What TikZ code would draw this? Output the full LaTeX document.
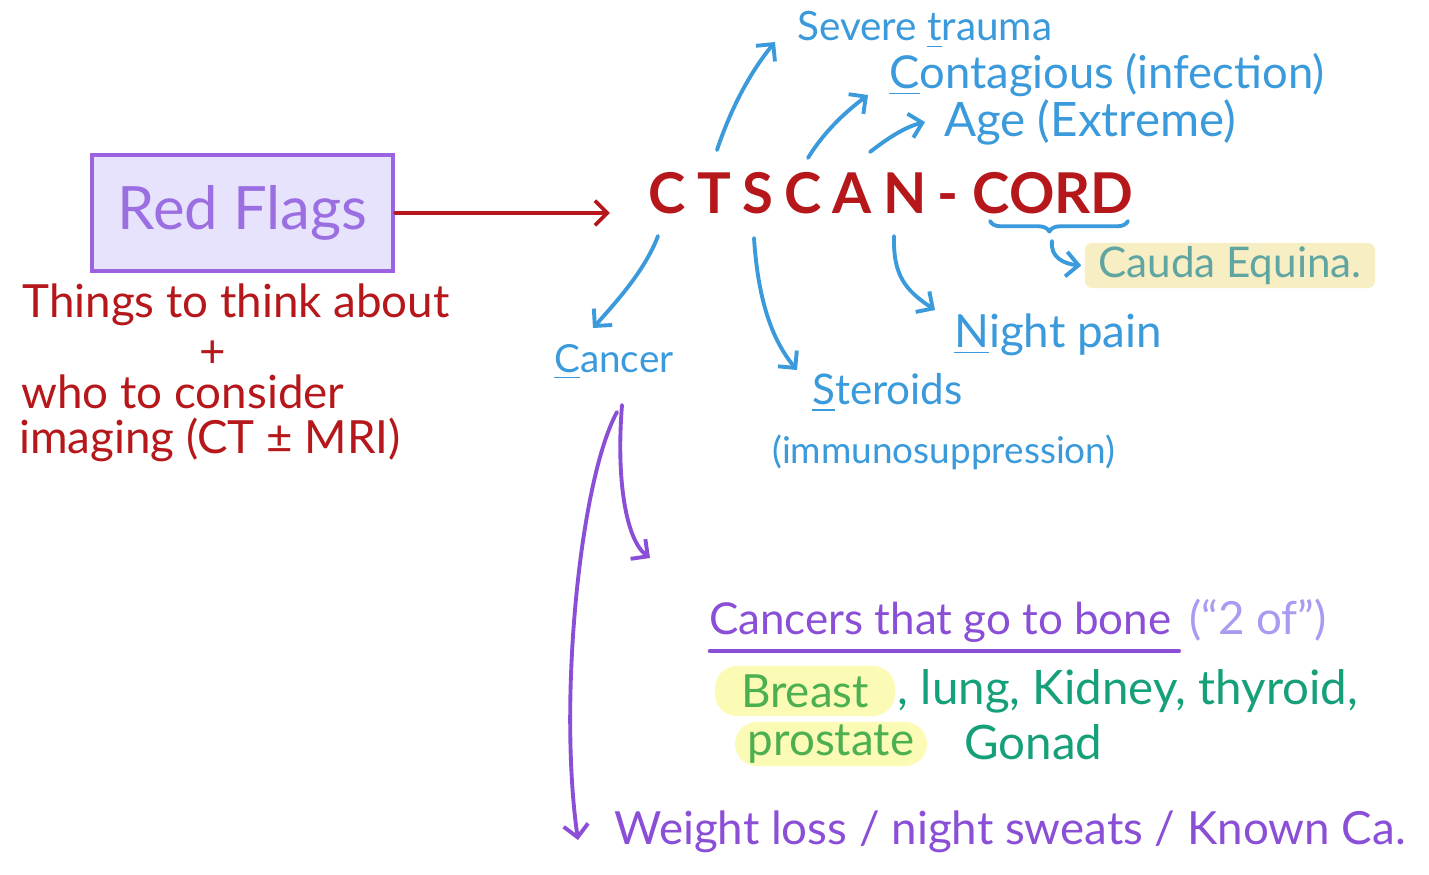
\documentclass[tikz,border=0pt]{standalone}
\usepackage{fontspec}
\setmainfont{Lato}
\usetikzlibrary{arrows.meta,decorations.pathreplacing}
\definecolor{cred}{HTML}{B5171B}
\definecolor{cblue}{HTML}{3A9ADB}
\definecolor{cpurple}{HTML}{8A4FD6}
\definecolor{cbox}{HTML}{9B63E0}
\definecolor{cboxtext}{HTML}{9B6FE2}
\definecolor{cboxfill}{HTML}{E8E3FD}
\definecolor{clpurple}{HTML}{A99AF2}
\definecolor{cgreen}{HTML}{4CB050}
\definecolor{cteal}{HTML}{16A07A}
\definecolor{cyellow}{HTML}{FCFBB6}
\definecolor{cbeige}{HTML}{F8EEC4}
\definecolor{ccauda}{HTML}{5FA5A2}
\newcommand\myfs[1]{\fontsize{#1}{#1}\selectfont}
\begin{document}
\begin{tikzpicture}[x=0.01cm,y=-0.01cm,
  ink/.style={line width=1.1pt,line cap=round,line join=round},
  barb/.style={-{Straight Barb[length=3.5pt,width=7pt]}},
  rfbox/.style={draw=cbox,fill=cboxfill,line width=1.3pt,minimum width=3.01cm,minimum height=1.16cm,text=cboxtext,font=\myfs{17}},
  redtxt/.style={text=cred,font=\myfs{13},inner sep=1pt},
  bluetxt/.style={text=cblue,inner sep=1pt,anchor=west},
  purptxt/.style={text=cpurple,inner sep=1pt,anchor=west},
  greentxt/.style={text=cteal,inner sep=1pt,font=\myfs{13.5}},
  hl/.style={fill=cyellow,rounded corners=0.22cm,inner sep=0pt,text=cgreen,font=\myfs{13}}]
\path[fill=white,use as bounding box] (0,0) rectangle (1429,875);

% Red flags box and notes
\node[rfbox] (rf) at (242.5,213) {Red Flags};
\node[redtxt] (things) at (236,305) {Things to think about};
\node[redtxt] (plus) at (213,354) {+};
\node[redtxt] (who) at (183,392) {who to consider};
\node[redtxt] (imaging) at (210,440) {imaging (CT ± MRI)};

% Main acronym
\node[text=cred,font=\myfs{16}\bfseries,anchor=west,inner sep=0pt] (ct) at (648,193)
  {{\addfontfeature{LetterSpace=20}CTSCAN-}\hspace{4pt}CORD};
\draw[ink,cred,barb] (rf.east) -- (rf.east -| ct.west) [shorten >=0.38cm];

% Blue labels
\node[bluetxt,font=\myfs{11.5}] (trauma) at (793,30) {Severe \underline{t}rauma};
\node[bluetxt,font=\myfs{12.9}] (contag) at (885,75) {\underline{C}ontagious (infection)};
\node[bluetxt,font=\myfs{13.5}] (age) at (940,122) {Age (Extreme)};
\node[bluetxt,font=\myfs{13}] (night) at (950,335) {\underline{N}ight pain};
\node[bluetxt,font=\myfs{11}] (cancer) at (550,362) {\underline{C}ancer};
\node[bluetxt,font=\myfs{12}] (steroids) at (808,393) {\underline{S}teroids};
\node[bluetxt,font=\myfs{10.5}] (immuno) at (768,452) {(immunosuppression)};
\node[fill=cbeige,rounded corners=2pt,minimum width=2.9cm,minimum height=0.45cm,inner sep=0pt,text=ccauda,font=\myfs{12}] (cauda) at (1230,265.5) {Cauda Equina.};

% Start points on the acronym
\coordinate (c1) at (717,150);
\coordinate (c2) at (808,158);
\coordinate (c3) at (870,152);
\coordinate (c4) at (658,236);
\coordinate (c5) at (754,238);
\coordinate (c6) at (894,236);
\coordinate (c7) at (1052,241);

\draw[ink,cblue,barb] (c1) .. controls (732,105) and (752,70) .. ([shift={(-18,12)}]trauma.west);
\draw[ink,cblue,barb] (c2) .. controls (825,130) and (848,110) .. ([shift={(-17,20)}]contag.west);
\draw[ink,cblue,barb] (c3) .. controls (888,138) and (905,127) .. ([shift={(-15,0)}]age.west);
\draw[ink,cblue,barb] (c4) .. controls (645,270) and (618,300) .. ([shift={(43,-34)}]cancer.west);
\draw[ink,cblue,barb] (c5) .. controls (758,300) and (772,340) .. ([shift={(-11,-23)}]steroids.west);
\draw[ink,cblue,barb] (c6) .. controls (893,275) and (905,290) .. ([shift={(-15,-25)}]night.west);
\draw[ink,cblue,decorate,decoration={brace,amplitude=3pt,aspect=0.57}] (1128,221) -- (990,221);
\draw[ink,cblue,barb] (c7) .. controls (1050,258) and (1065,264) .. ([xshift=-0.03cm]cauda.west);

% Purple part
\node[purptxt,font=\myfs{12.5}] (bone) at (705,622) {Cancers that go to bone};
\node[text=clpurple,inner sep=1pt,anchor=west,font=\myfs{13}] (twoof) at (1185,620) {(“2 of”)};
\draw[ink,cpurple,line width=1.3pt] ([shift={(5,29)}]bone.west) -- ([shift={(3,29)}]bone.east);
\node[hl,minimum width=1.8cm,minimum height=0.5cm] (breast) at (805,691) {Breast};
\node[greentxt,anchor=west] (lung) at ([xshift=-0.02cm]breast.east) {, lung, Kidney, thyroid,};
\node[hl,minimum width=1.92cm,minimum height=0.44cm] (prostate) at (831,744) {prostate};
\node[greentxt,anchor=west] (gonad) at (960,742) {Gonad};
\node[purptxt,font=\myfs{13}] (weight) at (610,832) {Weight loss / night sweats / Known Ca.};

\coordinate (c8) at (622,405);
\coordinate (c9) at (617,412);
\draw[ink,cpurple,barb] (c8) .. controls (616,480) and (626,540) .. ([shift={(-55,-64)}]bone.west);
\draw[ink,cpurple,barb] (c9) .. controls (580,480) and (558,700) .. ([shift={(-32,8)}]weight.west);
\end{tikzpicture}
\end{document}
